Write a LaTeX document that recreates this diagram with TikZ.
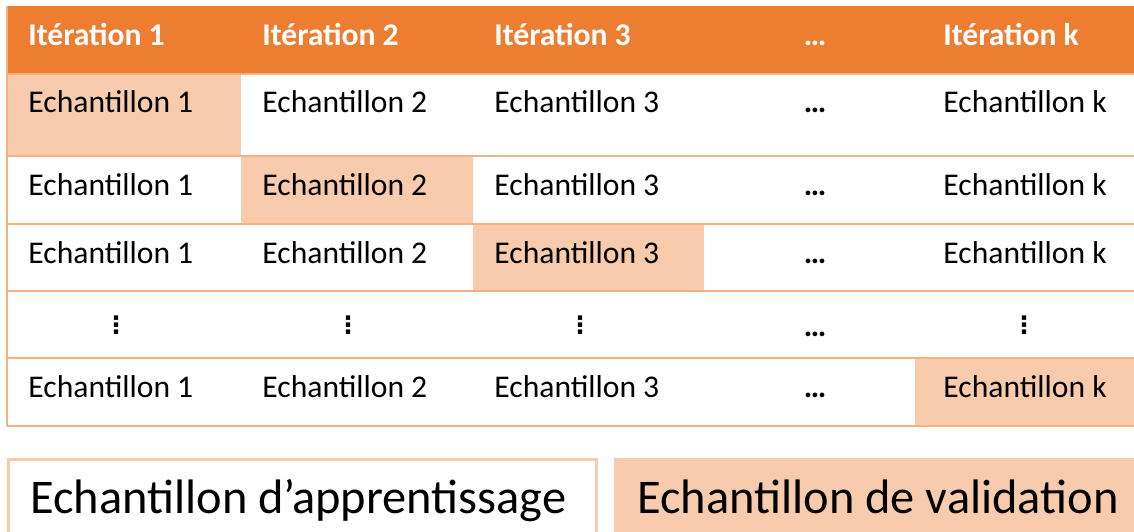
\documentclass[tikz,border=0pt]{standalone}
\usepackage{fontspec}
\setmainfont{Carlito}
\newfontfamily\vdotsfont{DejaVu Sans}
\definecolor{headorange}{HTML}{ED7D31}
\definecolor{paleorange}{HTML}{F8CBAD}
\definecolor{ruleorange}{HTML}{F4B183}
\newcommand{\cellsize}{\fontsize{15.8}{19}\selectfont}

\begin{document}
\begin{tikzpicture}[x=0.5pt,y=-0.5pt,
  cell/.style={anchor=base west,inner sep=0pt,font=\cellsize},
  head/.style={cell,text=white,font=\cellsize\bfseries},
  dotcell/.style={anchor=base,inner sep=0pt,font=\cellsize\bfseries},
  vdotcell/.style={anchor=base,inner sep=0pt,font=\vdotsfont\bfseries\fontsize{12}{14}\selectfont},
  legend/.style={anchor=base west,inner sep=0pt,font=\fontsize{24.2}{29}\selectfont}]
   \useasboundingbox (0,0) rectangle (1134,531);
   % fills
   \fill[headorange] (7,6) rectangle (1134,74);
   \fill[paleorange] (7,74) rectangle (241,156);
   \fill[paleorange] (241,156) rectangle (473,224);
   \fill[paleorange] (473,224) rectangle (704,291);
   \fill[paleorange] (915,358) rectangle (1134,426);
   % rules
   \draw[ruleorange,line width=1pt] (7,74) -- (1134,74);
   \draw[ruleorange,line width=1pt] (7,156) -- (1134,156);
   \draw[ruleorange,line width=1pt] (7,224) -- (1134,224);
   \draw[ruleorange,line width=1pt] (7,291) -- (1134,291);
   \draw[ruleorange,line width=1pt] (7,358) -- (1134,358);
   \draw[ruleorange,line width=1pt] (7,426) -- (1134,426);
   \draw[ruleorange,line width=1pt] (7,6) -- (7,426);
   % header
   \node[head] (h1) at (28,45) {Itération 1};
   \node[head] (h2) at (262,45) {Itération 2};
   \node[head] (h3) at (494,45) {Itération 3};
   \node[dotcell,text=white] (hd) at (815,45) {…};
   \node[head] (hk) at (943,45) {Itération k};
   % row 1
   \node[cell] (a1) at (28,112) {Echantillon 1};
   \node[cell] (a2) at (262,112) {Echantillon 2};
   \node[cell] (a3) at (494,112) {Echantillon 3};
   \node[dotcell] (ad) at (815,112) {…};
   \node[cell] (ak) at (943,112) {Echantillon k};
   % row 2
   \node[cell] (b1) at (28,195) {Echantillon 1};
   \node[cell] (b2) at (262,195) {Echantillon 2};
   \node[cell] (b3) at (494,195) {Echantillon 3};
   \node[dotcell] (bd) at (815,195) {…};
   \node[cell] (bk) at (943,195) {Echantillon k};
   % row 3
   \node[cell] (c1) at (28,263) {Echantillon 1};
   \node[cell] (c2) at (262,263) {Echantillon 2};
   \node[cell] (c3) at (494,263) {Echantillon 3};
   \node[dotcell] (cd) at (815,263) {…};
   \node[cell] (ck) at (943,263) {Echantillon k};
   % row 4
   \node[vdotcell] (d1) at (116,333) {⋮};
   \node[vdotcell] (d2) at (348,333) {⋮};
   \node[vdotcell] (d3) at (580,333) {⋮};
   \node[dotcell] (dd) at (815,336) {…};
   \node[vdotcell] (dk) at (1024,333) {⋮};
   % row 5
   \node[cell] (e1) at (28,397) {Echantillon 1};
   \node[cell] (e2) at (262,397) {Echantillon 2};
   \node[cell] (e3) at (494,397) {Echantillon 3};
   \node[dotcell] (ed) at (815,397) {…};
   \node[cell] (ek) at (943,397) {Echantillon k};
   % legend
   \draw[paleorange,line width=1.5pt] (8,540) -- (8,459) -- (596,459) -- (596,540);
   \fill[paleorange] (614,458) rectangle (1140,540);
   \node[legend] (train) at (30,513) {Echantillon d’apprentissage};
   \node[legend] (valid) at (637,513) {Echantillon de validation};
\end{tikzpicture}
\end{document}
